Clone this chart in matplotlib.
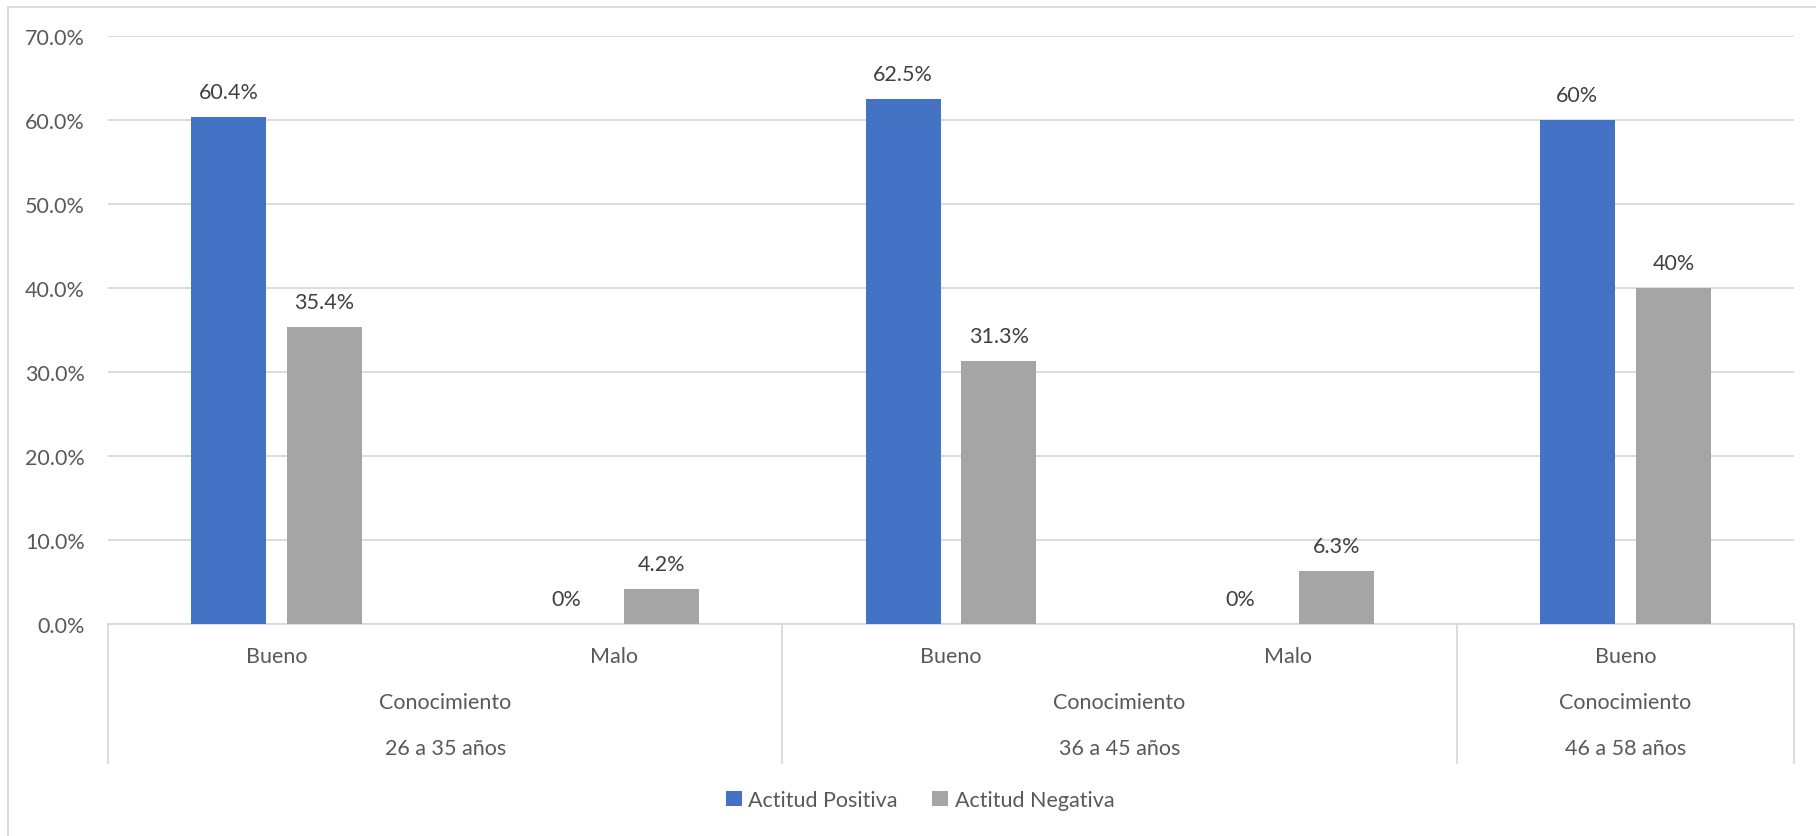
import matplotlib
matplotlib.use("Agg")
import matplotlib.pyplot as plt
from matplotlib.lines import Line2D
from matplotlib.patches import Patch
from matplotlib.ticker import FuncFormatter
import numpy as np

# ---- data ----
categories = ["Bueno", "Malo", "Bueno", "Malo", "Bueno"]
level2 = ["Conocimiento", "Conocimiento", "Conocimiento"]
groups = ["26 a 35 años", "36 a 45 años", "46 a 58 años"]
group_sizes = [2, 2, 1]
positiva = [60.4, 0.0, 62.5, 0.0, 60.0]
negativa = [35.4, 4.2, 31.3, 6.3, 40.0]
positiva_labels = ["60.4%", "0%", "62.5%", "0%", "60%"]
negativa_labels = ["35.4%", "4.2%", "31.3%", "6.3%", "40%"]
series_names = ["Actitud Positiva", "Actitud Negativa"]
yticks = [0, 10, 20, 30, 40, 50, 60, 70]

# ---- style ----
plt.rcParams['font.family'] = ['Lato', 'DejaVu Sans']
BLUE = "#4472C4"
GRAY = "#A5A5A5"
GRID = "#D9D9D9"
TXT = "#595959"
LBL = "#404040"
FS = 15.5

W, H = 1816, 837
fig = plt.figure(figsize=(W / 100, H / 100), dpi=100)

px_l, px_r, px_top, px_bot = 108, 1794, 37, 625
ax = fig.add_axes([px_l / W, 1 - px_bot / H, (px_r - px_l) / W, (px_bot - px_top) / H])
ax_h = px_bot - px_top

x = np.arange(len(categories))
bw = 0.2224
off = 0.1423
ax.bar(x - off, positiva, width=bw, color=BLUE, zorder=3)
ax.bar(x + off, negativa, width=bw, color=GRAY, zorder=3)

lab_off = 25 / ax_h * 70  # 25 px above bar top in data units
for i in range(len(categories)):
    ax.text(x[i] - off, positiva[i] + lab_off, positiva_labels[i], ha="center", va="center",
            fontsize=FS, color=LBL)
    ax.text(x[i] + off, negativa[i] + lab_off, negativa_labels[i], ha="center", va="center",
            fontsize=FS, color=LBL)

ax.set_xlim(-0.5, len(categories) - 0.5)
ax.set_ylim(0, 70)
ax.set_yticks(yticks)
ax.yaxis.set_major_formatter(FuncFormatter(lambda v, p: f"{v:.1f}%"))
ax.tick_params(axis="y", length=0, pad=16.5, labelsize=FS, labelcolor=TXT)
ax.set_xticks([])
ax.yaxis.grid(True, color=GRID, linewidth=1.3, zorder=0)
ax.set_axisbelow(True)
for s in ["top", "right", "left"]:
    ax.spines[s].set_visible(False)
ax.spines["bottom"].set_color(GRID)
ax.spines["bottom"].set_linewidth(1.3)

# ---- multi-level category axis ----
trans = ax.get_xaxis_transform()
def fy(py):
    return (px_bot - py) / ax_h

y_bottom = fy(764)
bounds = [-0.5]
acc = -0.5
for g in group_sizes:
    acc += g
    bounds.append(acc)
for b in bounds:
    ax.add_line(Line2D([b, b], [0, y_bottom], transform=trans, color=GRID, lw=1.3, clip_on=False))

for i, c in enumerate(categories):
    ax.text(x[i], fy(657), c, transform=trans, ha="center", va="center", fontsize=FS, color=TXT)
for k in range(len(groups)):
    center = (bounds[k] + bounds[k + 1]) / 2
    ax.text(center, fy(703), level2[k], transform=trans, ha="center", va="center", fontsize=FS, color=TXT)
    ax.text(center, fy(749), groups[k], transform=trans, ha="center", va="center", fontsize=FS, color=TXT)

# ---- legend ----
handles = [Patch(facecolor=BLUE, edgecolor="none"), Patch(facecolor=GRAY, edgecolor="none")]
fig.legend(handles, series_names, loc="center", bbox_to_anchor=(920 / W, 1 - 801 / H), ncol=2,
           frameon=False, fontsize=FS, labelcolor=TXT, handlelength=0.75, handleheight=0.75,
           handletextpad=0.3, columnspacing=1.6)

# ---- chart border (top & left visible) ----
fig.add_artist(Line2D([8 / W, 1], [1 - 7.5 / H, 1 - 7.5 / H], transform=fig.transFigure, color=GRID, lw=1.3))
fig.add_artist(Line2D([8 / W, 8 / W], [0, 1 - 7.5 / H], transform=fig.transFigure, color=GRID, lw=1.3))

fig.savefig("out.png", dpi=100, facecolor="white")
